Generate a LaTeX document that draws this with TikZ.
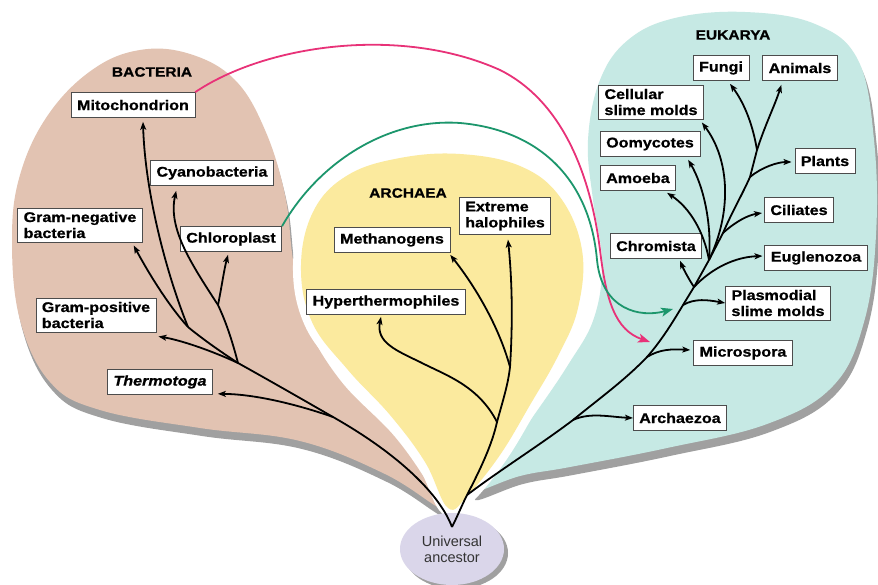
\documentclass[tikz,border=0pt]{standalone}
\usepackage{fontspec}
\setmainfont{Liberation Sans}[FakeStretch=1.15, BoldFeatures={FakeBold=0.8}, BoldItalicFeatures={FakeBold=0.8}]
\newfontfamily\ancfont{Liberation Sans}
\usetikzlibrary{arrows.meta,calc,shapes.geometric}
\definecolor{tanc}{RGB}{226,195,178}
\definecolor{yelc}{RGB}{251,234,158}
\definecolor{tealc}{RGB}{198,233,228}
\definecolor{shadc}{RGB}{160,160,160}
\definecolor{pinkc}{RGB}{232,50,120}
\definecolor{greenc}{RGB}{28,150,108}
\definecolor{ancc}{RGB}{218,214,234}
\begin{document}
\begin{tikzpicture}[x=1pt,y=-1pt,
  lbox/.style={draw=black!70, line width=0.7pt, fill=white, inner xsep=6pt, inner ysep=4pt,
    minimum height=25pt, font=\fontsize{14}{16}\selectfont\bfseries, align=left},
  grp/.style={font=\fontsize{13.5}{16}\selectfont\bfseries},
  br/.style={line width=1.8pt, -{Stealth[length=8pt,width=6pt,inset=2pt]}},
  trunk/.style={line width=1.8pt},
  link/.style={line width=1.8pt, -{Stealth[length=12pt,width=9pt,inset=3pt]}},
]
\useasboundingbox (0,0) rectangle (878,585);
\fill[white] (0,0) rectangle (878,585);

% Bacteria blob
\path[fill=tanc, preaction={fill=shadc, transform canvas={xshift=2pt,yshift=-8pt}}]
  plot[smooth cycle, tension=0.65] coordinates {(440,508) (385,474) (300,441) (200,428) (100,410) (50,382) (20,320) (12,240) (20,175) (48,115) (92,70) (140,50) (190,54) (235,80) (265,130) (285,195) (293,260) (305,320) (340,380) (395,437) (432,490)};
% Eukarya blob
\path[fill=tealc, preaction={fill=shadc, transform canvas={xshift=3pt,yshift=-8pt}}]
  plot[smooth cycle, tension=0.65] coordinates {(472,492) (520,476) (570,467) (667,448) (767,424) (833,386) (864,322) (876,235) (874,140) (858,60) (815,24) (745,12) (675,18) (628,40) (600,80) (588,140) (593,200) (602,262) (594,318) (568,365) (532,418) (500,462)};
% Archaea blob
\path[fill=yelc, preaction={draw=white, fill=white, line width=16pt}]
  plot[smooth cycle, tension=0.65] coordinates {(448,508) (425,462) (390,415) (348,370) (312,322) (301,265) (314,210) (348,175) (400,158) (460,154) (520,166) (560,197) (582,250) (578,308) (558,356) (530,405) (500,455) (468,495)};

% Universal ancestor
\node[ellipse, fill=ancc, minimum width=104pt, minimum height=72pt, inner sep=0pt,
  preaction={fill=shadc, transform canvas={xshift=4pt,yshift=-4pt}},
  align=center, font=\ancfont\fontsize{14.5}{16}\selectfont, text=black!80] (anc) at (452,549) {Universal\\ancestor};

% Labels
\node[grp] (lblB) at (152,72) {BACTERIA};
\node[grp] (lblA) at (408,193) {ARCHAEA};
\node[grp] (lblE) at (733,35) {EUKARYA};

% Boxes
\node[lbox] (Mito) at (133,105) {Mitochondrion};
\node[lbox] (Cyan) at (212,173) {Cyanobacteria};
\node[lbox] (Gneg) at (80,225) {Gram-negative\\bacteria};
\node[lbox] (Chloro) at (231,239) {Chloroplast};
\node[lbox] (Gpos) at (96,315) {Gram-positive\\bacteria};
\node[lbox, font=\fontsize{14}{16}\selectfont\bfseries\itshape] (Thermo) at (160,382) {Thermotoga};
\node[lbox] (Ext) at (505,216) {Extreme\\halophiles};
\node[lbox] (Meth) at (392,240) {Methanogens};
\node[lbox] (Hyper) at (386,302) {Hyperthermophiles};
\node[lbox] (Fungi) at (721,68) {Fungi};
\node[lbox] (Anim) at (800,68) {Animals};
\node[lbox] (Cell) at (651,102) {Cellular\\slime molds};
\node[lbox] (Oomy) at (650,144) {Oomycotes};
\node[lbox] (Plant) at (825,161) {Plants};
\node[lbox] (Amoe) at (638,178) {Amoeba};
\node[lbox] (Cil) at (799,210) {Ciliates};
\node[lbox] (Chrom) at (656,246) {Chromista};
\node[lbox] (Eug) at (816,258) {Euglenozoa};
\node[lbox] (Plas) at (778,303) {Plasmodial\\slime molds};
\node[lbox] (Micro) at (743,353) {Microspora};
\node[lbox] (Archz) at (680,418) {Archaezoa};

% Branch points
\coordinate (root) at (452,527);
\coordinate (split) at (467,495);
\coordinate (bT) at (333,417);
\coordinate (bB) at (238,363);
\coordinate (bM) at (188,327);
\coordinate (bC) at (218,305);
\coordinate (aH) at (497,422);
\coordinate (aM) at (510,367);
\coordinate (eA) at (573,420);
\coordinate (eMi) at (647,357);
\coordinate (eP) at (683,305);
\coordinate (eC) at (694,287);
\coordinate (eF) at (709,260);
\coordinate (eCi) at (723,233);
\coordinate (ePl) at (750,177);
\coordinate (eAF) at (757,150);
\coordinate (pinkend) at (650,342);
\coordinate (greenend) at (673,309);

% Bacteria tree
\draw[trunk] (root) .. controls (440,495) and (400,455) .. (bT) .. controls (300,398) and (265,378) .. (bB);
\draw[br] (bT) .. controls (290,402) and (250,394) .. ($(Thermo.south east)+(5,-1)$);
\draw[br] (bB) .. controls (210,350) and (180,340) .. ($(Gpos.south east)+(2,4)$);
\draw[trunk] (bB) .. controls (218,350) and (200,337) .. (bM);
\draw[br] (bM) .. controls (168,305) and (148,272) .. ($(Gneg.south east)+(-9,3)$);
\draw[br] (bM) .. controls (165,270) and (145,190) .. ($(Mito.south)+(10,4)$);
\draw[trunk] (bB) .. controls (232,340) and (226,322) .. (bC);
\draw[br] (bC) .. controls (190,262) and (168,228) .. ($(Cyan.south west)+(26,5)$);
\draw[br] (bC) .. controls (222,285) and (224,270) .. ($(Chloro.south)+(-3,3)$);

% Archaea tree
\draw[trunk] (root) .. controls (458,515) and (462,505) .. (split);
\draw[trunk] (split) .. controls (480,470) and (492,445) .. (aH) .. controls (503,400) and (508,385) .. (aM);
\draw[br] (aM) .. controls (513,320) and (512,280) .. ($(Ext.south)+(3,5)$);
\draw[br] (aM) .. controls (500,330) and (478,290) .. ($(Meth.south east)+(0,2)$);
\draw[br] (aH) .. controls (478,385) and (445,375) .. (420,362) .. controls (395,350) and (376,342) .. ($(Hyper.south)+(-5,2)$);

% Eukarya tree
\draw[trunk] (split) .. controls (500,470) and (540,445) .. (eA) .. controls (600,398) and (625,380) .. (eMi) .. controls (662,340) and (674,320) .. (eP) -- (eC) -- (eF);
\draw[trunk] (eF) -- (eCi) .. controls (732,212) and (742,195) .. (ePl) -- (eAF);
\draw[br] (eA) .. controls (590,412) and (610,417) .. (Archz.west);
\draw[br] (eMi) .. controls (660,349) and (672,349) .. ($(Micro.west)+(-3,-3)$);
\draw[br] (eP) .. controls (695,298) and (708,300) .. (Plas.west);
\draw[br] (eC) .. controls (688,278) and (683,268) .. ($(Chrom.south east)+(-22,2)$);
\draw[br] (eC) .. controls (712,268) and (735,257) .. ($(Eug.west)+(-2,-2)$);
\draw[br] (eF) .. controls (704,232) and (690,208) .. ($(Amoe.south east)+(-9,2)$);
\draw[br] (eF) .. controls (712,222) and (703,185) .. ($(Oomy.south east)+(-12,3)$);
\draw[br] (eF) .. controls (732,212) and (730,160) .. ($(Cell.south east)+(-2,3)$);
\draw[br] (eCi) .. controls (735,222) and (748,215) .. ($(Cil.west)+(-2,3)$);
\draw[br] (ePl) .. controls (762,167) and (778,162) .. ($(Plant.west)+(-3,1)$);
\draw[br] (eAF) .. controls (752,120) and (742,100) .. ($(Fungi.south)+(9,3)$);
\draw[br] (eAF) .. controls (765,125) and (775,105) .. ($(Anim.south west)+(19,4)$);

% Endosymbiosis links
\draw[link, pinkc] (Mito.north east) .. controls (265,45) and (400,25) .. (500,70) .. controls (560,100) and (590,170) .. (600,250) .. controls (606,300) and (615,330) .. (pinkend);
\draw[link, greenc] (Chloro.north east) .. controls (320,160) and (390,118) .. (460,123) .. controls (540,130) and (590,180) .. (597,260) .. controls (602,310) and (640,318) .. (greenend);
\end{tikzpicture}
\end{document}
